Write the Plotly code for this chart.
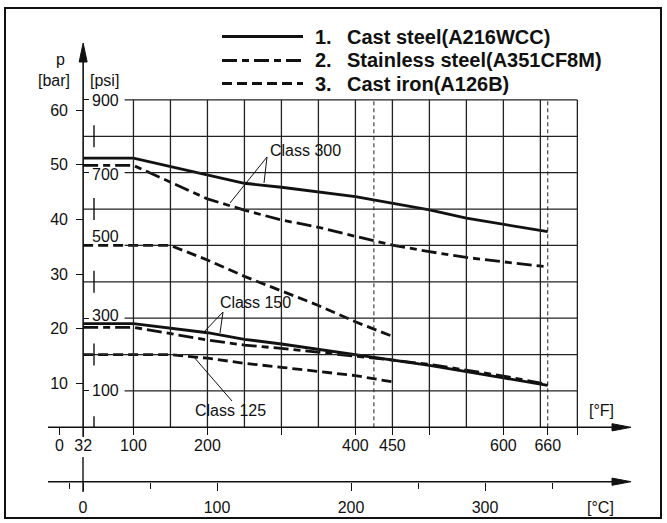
import plotly.graph_objects as go

# ---------------- data ----------------
series_names = ["Cast steel(A216WCC)", "Stainless steel(A351CF8M)", "Cast iron(A126B)"]

cs300_F = [32, 100, 250, 300, 400, 450, 500, 550, 600, 660]
cs300_psi = [740, 740, 671, 660, 634, 616, 598, 575, 558, 538]
ss300_F = [32, 100, 200, 250, 300, 350, 400, 450, 500, 550, 600, 660]
ss300_psi = [720, 720, 628, 597, 570, 550, 525, 501, 483, 467, 455, 441]
ci250_F = [32, 150, 200, 250, 300, 350, 400, 450]
ci250_psi = [500, 500, 460, 415, 375, 335, 290, 250]
cs150_F = [32, 100, 200, 250, 300, 400, 500, 600, 660]
cs150_psi = [285, 285, 260, 242, 229, 199, 170, 136, 115]
ss150_F = [32, 100, 200, 250, 300, 350, 400, 450, 500, 600, 660]
ss150_psi = [275, 275, 240, 226, 217, 207, 196, 185, 173, 141, 118]
ci125_F = [32, 150, 200, 250, 300, 350, 400, 450]
ci125_psi = [200, 200, 190, 176, 165, 153, 142, 125]

f_ticks = [0, 32, 100, 200, 400, 450, 600, 660]
f_minor = [300, 500, 700]
c_ticks = [0, 100, 200, 300]
c_minor = [-10, 50, 250, 350]
bar_ticks = [10, 20, 30, 40, 50, 60]
psi_labels = [900, 700, 500, 300, 100]
psi_unlabeled = [800, 600, 400, 200]
grid_f = [100, 150, 200, 250, 300, 350, 400, 450, 500, 550, 600, 650, 700]
grid_psi = [100, 200, 300, 400, 500, 600, 700, 800, 900]
limit_f = [425, 660]
class_labels = ["Class 300", "Class 150", "Class 125"]

# ---------------- geometry helpers ----------------
W, H = 667, 523


def xp(px):
    return px / W


def yp(py):
    return 1 - py / H


F_A, F_B = 59.47, 0.73984      # px = F_A + F_B * degF
P_A, P_B = 427.3, 0.3637       # py = P_A - P_B * psi
B_A, B_B = 438.0, 5.466        # py = B_A - B_B * bar
C_A, C_B = 83.0, 1.34          # px = C_A + C_B * degC

x_range = [-F_A / F_B, (W - F_A) / F_B]
y_range = [(P_A - H) / P_B, P_A / P_B]
bar_range = [(B_A - H) / B_B, B_A / B_B]
c_range = [-C_A / C_B, (W - C_A) / C_B]

INK = "#111111"
GRID = "#222222"
FONT = "Liberation Sans"
dash_styles = ["solid", "15px,5px,7px,5px", "10px,5px"]

fig = go.Figure()

curves = [
    (cs300_F, cs300_psi, 0), (ss300_F, ss300_psi, 1), (ci250_F, ci250_psi, 2),
    (cs150_F, cs150_psi, 0), (ss150_F, ss150_psi, 1), (ci125_F, ci125_psi, 2),
]
for fx, py_, k in curves:
    fig.add_trace(go.Scatter(x=fx, y=py_, mode="lines", name=series_names[k],
                             line=dict(color=INK, width=2.8, dash=dash_styles[k]),
                             showlegend=False, hoverinfo="skip"))
# carrier for the secondary (degC / bar) axes
fig.add_trace(go.Scatter(x=[], y=[], xaxis="x2", yaxis="y2", showlegend=False))

shapes = []
# outer frame
shapes.append(dict(type="rect", xref="paper", yref="paper", x0=xp(5), x1=xp(661),
                   y0=yp(518), y1=yp(8), line=dict(color=INK, width=2)))
# grid
for f in grid_f:
    shapes.append(dict(type="line", xref="x", yref="y", x0=f, x1=f, y0=0, y1=900,
                       line=dict(color=GRID, width=1.3)))
for p in grid_psi:
    start = 32 if p in psi_unlabeled else 88
    shapes.append(dict(type="line", xref="x", yref="y", x0=start, x1=700, y0=p, y1=p,
                       line=dict(color=GRID, width=1.3)))
for f in limit_f:
    shapes.append(dict(type="line", xref="x", yref="y", x0=f, x1=f, y0=0, y1=900,
                       line=dict(color=GRID, width=1, dash="4px,3px")))
# y axis with arrow
shapes.append(dict(type="line", xref="x", yref="paper", x0=32, x1=32, y0=yp(437), y1=yp(58),
                   line=dict(color=INK, width=1.6)))
yx = F_A + F_B * 32
shapes.append(dict(type="path", xref="paper", yref="paper",
                   path=f"M{xp(yx)},{yp(43)} L{xp(yx-4)},{yp(62)} L{xp(yx+4)},{yp(62)} Z",
                   fillcolor=INK, line=dict(color=INK, width=1)))
# F axis and C axis with arrows
for ay in [P_A, 481.7]:
    shapes.append(dict(type="line", xref="paper", yref="paper", x0=xp(48), x1=xp(615),
                       y0=yp(ay), y1=yp(ay), line=dict(color=INK, width=1.6)))
    shapes.append(dict(type="path", xref="paper", yref="paper",
                       path=f"M{xp(631)},{yp(ay)} L{xp(612)},{yp(ay-3.6)} L{xp(612)},{yp(ay+3.6)} Z",
                       fillcolor=INK, line=dict(color=INK, width=1)))
# psi scale dashes
for p in psi_unlabeled:
    shapes.append(dict(type="line", xref="paper", yref="y", x0=xp(94), x1=xp(94),
                       y0=p - 11 / P_B, y1=p + 11 / P_B, line=dict(color=INK, width=1.4)))
shapes.append(dict(type="line", xref="paper", yref="y", x0=xp(94), x1=xp(94),
                   y0=0, y1=11 / P_B, line=dict(color=INK, width=1.4)))
# long 0 degC tick
shapes.append(dict(type="line", xref="x2", yref="paper", x0=0, x1=0, y0=yp(492), y1=yp(457),
                   line=dict(color=INK, width=1.4)))
# leaders for class labels
leaders = [((267, 157), (230, 203)), ((267, 157), (264, 183)),
           ((223, 312), (203, 333)), ((223, 312), (220, 333)),
           ((193, 356), (232, 401))]
for (ax_, ay_), (bx_, by_) in leaders:
    shapes.append(dict(type="line", xref="paper", yref="paper", x0=xp(ax_), y0=yp(ay_),
                       x1=xp(bx_), y1=yp(by_), line=dict(color=INK, width=1)))
# legend samples
leg_y = [36.5, 60.5, 83.5]
for k in range(3):
    shapes.append(dict(type="line", xref="paper", yref="paper", x0=xp(222), x1=xp(303),
                       y0=yp(leg_y[k]), y1=yp(leg_y[k]),
                       line=dict(color=INK, width=2.8, dash=dash_styles[k])))

ann = []
legend_font = dict(family=FONT, size=20, color=INK, weight="bold")
for k in range(3):
    ann.append(dict(xref="paper", yref="paper", x=xp(313), y=yp(leg_y[k]), text=f"{k+1}.",
                    xanchor="left", yanchor="middle", showarrow=False, font=legend_font))
    ann.append(dict(xref="paper", yref="paper", x=xp(345), y=yp(leg_y[k]), text=series_names[k],
                    xanchor="left", yanchor="middle", showarrow=False, font=legend_font))
small = dict(family=FONT, size=16, color=INK)
ann.append(dict(xref="paper", yref="paper", x=xp(60), y=yp(60), text="p", showarrow=False,
                xanchor="center", yanchor="middle", font=small))
ann.append(dict(xref="paper", yref="paper", x=xp(54), y=yp(81), text="[bar]", showarrow=False,
                xanchor="center", yanchor="middle", font=small))
ann.append(dict(xref="paper", yref="paper", x=xp(104), y=yp(81), text="[psi]", showarrow=False,
                xanchor="center", yanchor="middle", font=small))
psi_shift = [-1, -2, 9, 3, 0]
for p, s in zip(psi_labels, psi_shift):
    ann.append(dict(xref="paper", yref="y", x=xp(105), y=p, yshift=s, text=str(p),
                    showarrow=False, xanchor="center", yanchor="middle", font=small))
class_pos = [(268, 150), (218, 302), (193, 410)]
for t, (cx, cy) in zip(class_labels, class_pos):
    ann.append(dict(xref="paper", yref="paper", x=xp(cx), y=yp(cy), text=t, showarrow=False,
                    xanchor="left", yanchor="middle", font=small))
ann.append(dict(xref="paper", yref="paper", x=xp(601), y=yp(410), text="[°F]", showarrow=False,
                xanchor="center", yanchor="middle", font=small))
ann.append(dict(xref="paper", yref="paper", x=xp(600), y=yp(507), text="[°C]", showarrow=False,
                xanchor="center", yanchor="middle", font=small))

common = dict(showgrid=False, zeroline=False, showline=False, automargin=False,
              tickcolor=INK, tickwidth=1.4, tickfont=small)

fig.update_layout(
    width=W, height=H, margin=dict(l=0, r=0, t=0, b=0),
    paper_bgcolor="white", plot_bgcolor="white", template="none",
    font=dict(family=FONT, color=INK),
    shapes=shapes, annotations=ann,
    xaxis=dict(range=x_range, domain=[0, 1], anchor="free", position=yp(P_A),
               tickmode="array", tickvals=f_ticks, ticktext=[str(v) for v in f_ticks],
               ticks="outside", ticklen=7, ticklabelstandoff=-4,
               minor=dict(tickmode="array", tickvals=f_minor, ticks="outside", ticklen=7,
                          tickcolor=INK, tickwidth=1.4),
               **common),
    xaxis2=dict(range=c_range, overlaying="x", anchor="free", position=yp(481.7),
                tickmode="array", tickvals=c_ticks, ticktext=[str(v) for v in c_ticks],
                ticks="outside", ticklen=8, ticklabelstandoff=3,
                minor=dict(tickmode="array", tickvals=c_minor, ticks="outside", ticklen=6,
                           tickcolor=INK, tickwidth=1.4),
                **common),
    yaxis=dict(range=y_range, domain=[0, 1], anchor="free", position=xp(yx), side="right",
               tickmode="array", tickvals=psi_labels, ticks="outside", ticklen=5,
               showticklabels=False, **common),
    yaxis2=dict(range=bar_range, overlaying="y", anchor="free", position=xp(yx), side="left",
                tickmode="array", tickvals=bar_ticks, ticktext=[str(v) for v in bar_ticks],
                ticks="outside", ticklen=7, ticklabelstandoff=5, **common),
)

fig.write_html("out.html", config={"displayModeBar": False},
               post_script="document.body.style.margin='0';document.body.style.overflow='hidden';")
